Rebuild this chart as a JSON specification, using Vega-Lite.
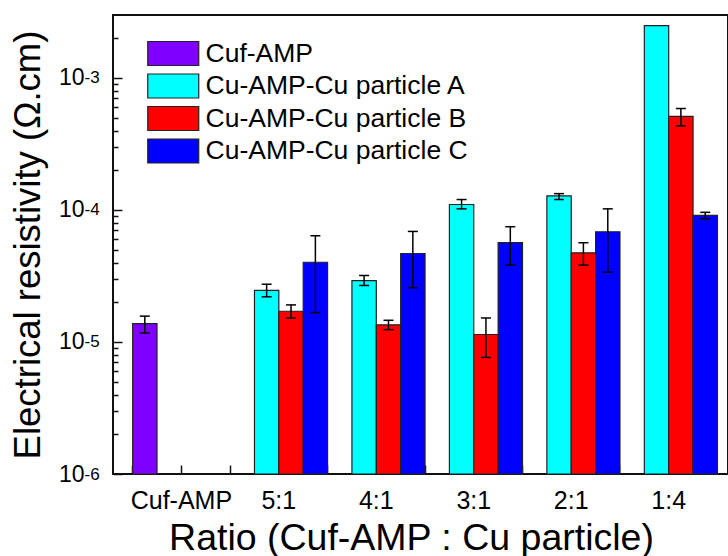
{
  "$schema": "https://vega.github.io/schema/vega-lite/v6.json",
  "autosize": {"type": "none"},
  "padding": {"left": 113, "top": 15, "right": 0, "bottom": 82},
  "width": 615,
  "height": 459,
  "config": {
    "font": "Liberation Sans",
    "view": {"stroke": "#111", "strokeWidth": 2},
    "axis": {"grid": false, "domain": false, "labelColor": "black", "titleColor": "black", "tickColor": "#111", "tickWidth": 1.5, "labelFont": "Liberation Sans", "titleFont": "Liberation Sans", "titleFontWeight": "normal"},
    "legend": {"labelFont": "Liberation Sans", "labelColor": "black"}
  },
  "data": {
    "values": [
      {"ratio": "Cuf-AMP", "series": "Cuf-AMP", "value": 1.38e-5, "lo": 1.17e-5, "hi": 1.57e-5},
      {"ratio": "5:1", "series": "Cu-AMP-Cu particle A", "value": 2.46e-5, "lo": 2.2e-5, "hi": 2.74e-5},
      {"ratio": "5:1", "series": "Cu-AMP-Cu particle B", "value": 1.71e-5, "lo": 1.52e-5, "hi": 1.91e-5},
      {"ratio": "5:1", "series": "Cu-AMP-Cu particle C", "value": 4.02e-5, "lo": 1.67e-5, "hi": 6.38e-5},
      {"ratio": "4:1", "series": "Cu-AMP-Cu particle A", "value": 2.92e-5, "lo": 2.68e-5, "hi": 3.19e-5},
      {"ratio": "4:1", "series": "Cu-AMP-Cu particle B", "value": 1.35e-5, "lo": 1.24e-5, "hi": 1.46e-5},
      {"ratio": "4:1", "series": "Cu-AMP-Cu particle C", "value": 4.68e-5, "lo": 2.58e-5, "hi": 6.88e-5},
      {"ratio": "3:1", "series": "Cu-AMP-Cu particle A", "value": 1.10e-4, "lo": 1.02e-4, "hi": 1.2e-4},
      {"ratio": "3:1", "series": "Cu-AMP-Cu particle B", "value": 1.14e-5, "lo": 7.64e-6, "hi": 1.52e-5},
      {"ratio": "3:1", "series": "Cu-AMP-Cu particle C", "value": 5.65e-5, "lo": 3.82e-5, "hi": 7.47e-5},
      {"ratio": "2:1", "series": "Cu-AMP-Cu particle A", "value": 1.28e-4, "lo": 1.2e-4, "hi": 1.33e-4},
      {"ratio": "2:1", "series": "Cu-AMP-Cu particle B", "value": 4.74e-5, "lo": 3.82e-5, "hi": 5.65e-5},
      {"ratio": "2:1", "series": "Cu-AMP-Cu particle C", "value": 6.84e-5, "lo": 3.38e-5, "hi": 1.02e-4},
      {"ratio": "1:4", "series": "Cu-AMP-Cu particle A", "value": 2.49e-3, "lo": null, "hi": null},
      {"ratio": "1:4", "series": "Cu-AMP-Cu particle B", "value": 5.11e-4, "lo": 4.34e-4, "hi": 5.87e-4},
      {"ratio": "1:4", "series": "Cu-AMP-Cu particle C", "value": 9.1e-5, "lo": 8.59e-5, "hi": 9.6e-5}
    ]
  },
  "resolve": {"axis": {"x": "independent", "y": "independent"}},
  "layer": [
    {
      "mark": {"type": "bar", "stroke": "#222", "strokeWidth": 1.2},
      "encoding": {
        "x": {
          "field": "ratio", "type": "nominal", "sort": null,
          "scale": {"domain": ["Cuf-AMP", "5:1", "4:1", "3:1", "2:1", "1:4"], "paddingInner": 0, "paddingOuter": 0.155, "align": 0.65},
          "axis": {"orient": "bottom", "title": "Ratio (Cuf-AMP : Cu particle)", "labelAngle": 0, "labelFontSize": 25, "tickSize": -9, "labelPadding": 23, "titleFontSize": 37.5, "titleX": 298, "titleY": 75, "titleBaseline": "alphabetic"}
        },
        "xOffset": {
          "field": "series", "type": "nominal",
          "scale": {"domain": ["Cuf-AMP", "Cu-AMP-Cu particle A", "Cu-AMP-Cu particle B", "Cu-AMP-Cu particle C"], "paddingInner": 0, "paddingOuter": 0}
        },
        "y": {
          "field": "value", "type": "quantitative", "stack": null,
          "scale": {"type": "log", "domain": [1e-6, 3e-3], "nice": false},
          "axis": {"orient": "left", "title": "Electrical resistivity (Ω.cm)", "values": [1e-6, 1e-5, 1e-4, 1e-3], "labelExpr": "'10'", "labelFontSize": 23, "tickSize": -9, "labelPadding": 38, "labelBaseline": "middle", "labelDy": 1, "titleFontSize": 36.5, "titleX": -74, "titleY": 229.5, "titleBaseline": "alphabetic", "titleAngle": 270}
        },
        "y2": {"datum": 1e-6},
        "color": {
          "field": "series", "type": "nominal",
          "scale": {"domain": ["Cuf-AMP", "Cu-AMP-Cu particle A", "Cu-AMP-Cu particle B", "Cu-AMP-Cu particle C"], "range": ["#8000FF", "#00FFFF", "#FF0000", "#0000FF"]},
          "legend": {"orient": "none", "legendX": 34, "legendY": 25, "title": null, "symbolType": "M-1,-0.94H3V0.94H-1Z", "symbolSize": 650, "symbolStrokeColor": "#222", "symbolStrokeWidth": 1.2, "symbolOpacity": 1, "labelFontSize": 26.5, "labelOffset": 31.5, "rowPadding": 3.5, "padding": 0, "labelLimit": 400}
        }
      }
    },
    {
      "transform": [{"filter": "isValid(datum.hi)"}],
      "mark": {"type": "rule", "color": "black", "strokeWidth": 1.5},
      "encoding": {
        "x": {"field": "ratio", "type": "nominal", "sort": null, "axis": {"orient": "bottom", "labels": false, "title": null, "bandPosition": 0, "tickSize": -9}},
        "xOffset": {"field": "series", "type": "nominal"},
        "y": {"field": "lo", "type": "quantitative", "axis": {"orient": "left", "title": null, "values": [1e-6, 1e-5, 1e-4, 1e-3], "labelExpr": "'-' + round(-log(datum.value)/LN10)", "ticks": false, "labelPadding": 29, "labelAlign": "left", "labelBaseline": "middle", "labelDy": -8, "labelFontSize": 17}},
        "y2": {"field": "hi"}
      }
    },
    {
      "transform": [{"filter": "isValid(datum.hi)"}],
      "mark": {"type": "point", "shape": "stroke", "size": 100, "color": "black", "strokeWidth": 1.5, "opacity": 1},
      "encoding": {
        "x": {"field": "ratio", "type": "nominal", "sort": null, "axis": null},
        "xOffset": {"field": "series", "type": "nominal"},
        "y": {"field": "hi", "type": "quantitative", "axis": {"orient": "left", "title": null, "labels": false, "tickSize": -5, "values": [2e-6, 3e-6, 4e-6, 5e-6, 6e-6, 7e-6, 8e-6, 9e-6, 2e-5, 3e-5, 4e-5, 5e-5, 6e-5, 7e-5, 8e-5, 9e-5, 2e-4, 3e-4, 4e-4, 5e-4, 6e-4, 7e-4, 8e-4, 9e-4, 2e-3]}}
      }
    },
    {
      "transform": [{"filter": "isValid(datum.lo)"}],
      "mark": {"type": "point", "shape": "stroke", "size": 100, "color": "black", "strokeWidth": 1.5, "opacity": 1},
      "encoding": {
        "x": {"field": "ratio", "type": "nominal", "sort": null, "axis": null},
        "xOffset": {"field": "series", "type": "nominal"},
        "y": {"field": "lo", "type": "quantitative", "axis": null}
      }
    }
  ]
}
